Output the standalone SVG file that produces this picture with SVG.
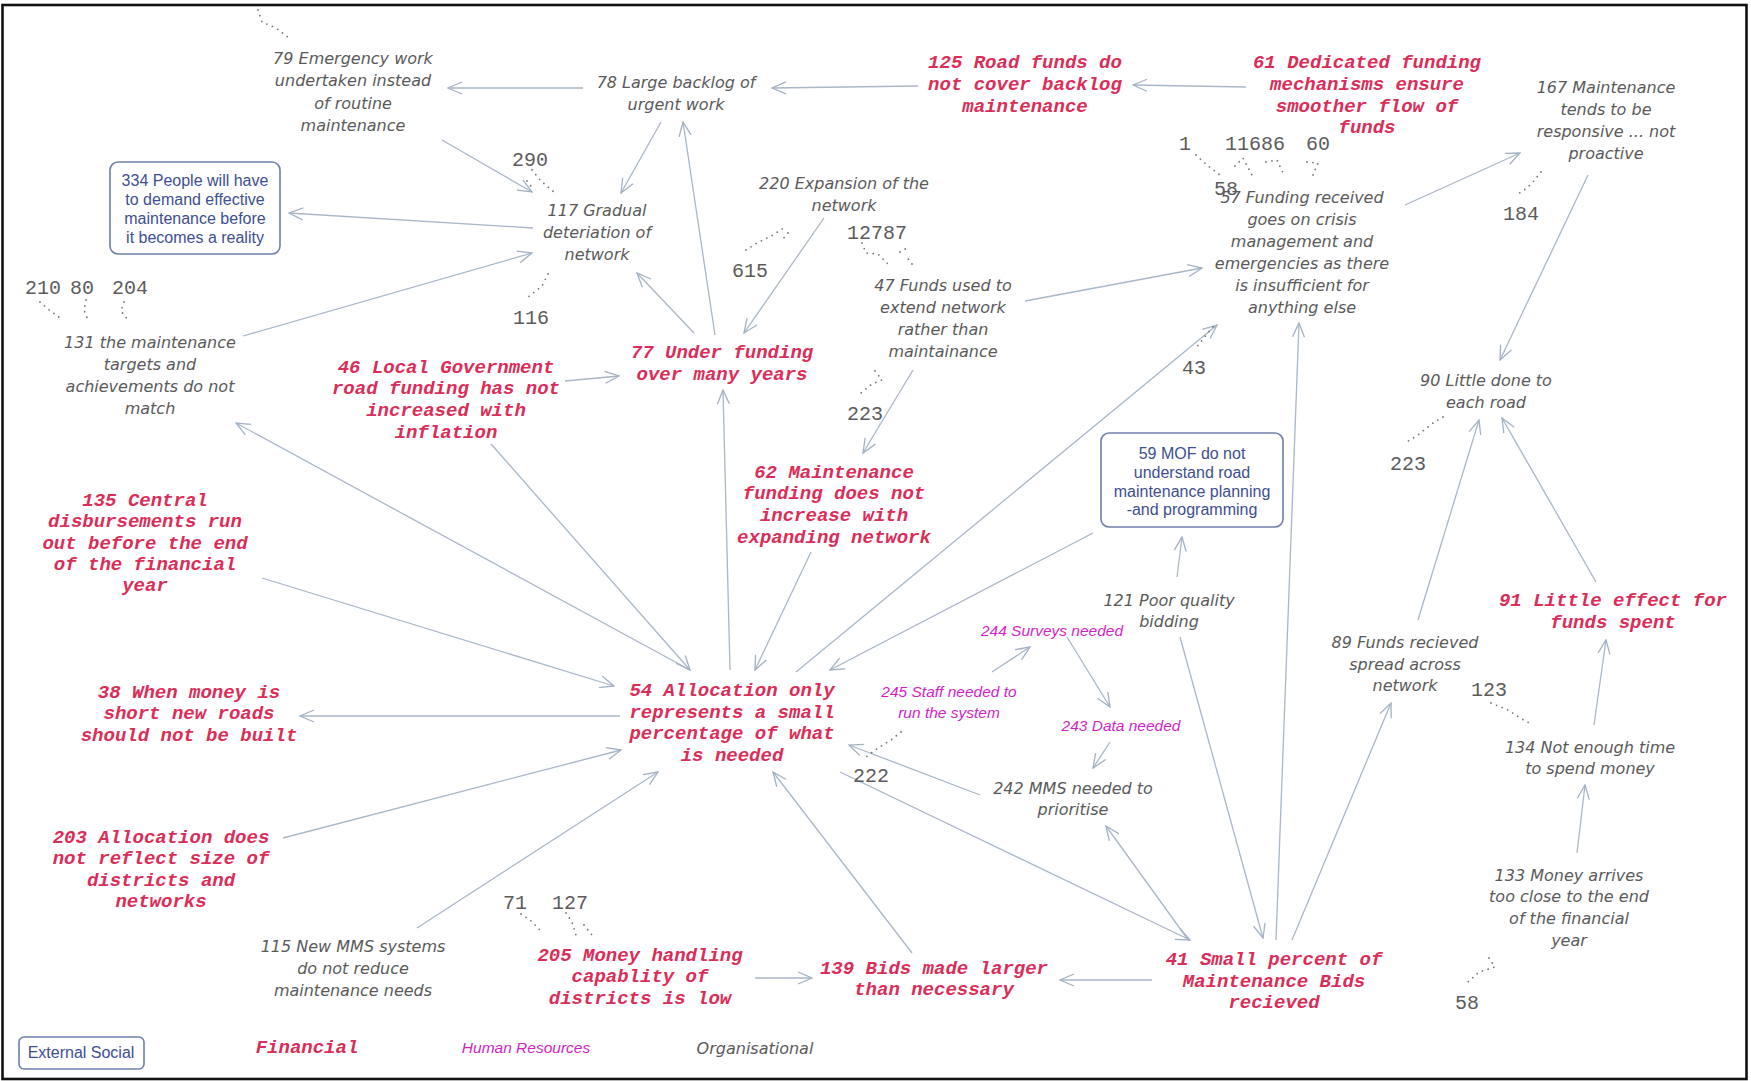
<svg xmlns="http://www.w3.org/2000/svg" width="1751" height="1081" viewBox="0 0 1751 1081">
  <style>
    .org { font-family: "DejaVu Sans", "Liberation Sans", sans-serif; font-style: italic; font-size: 16px; fill: #5a5a5a; text-anchor: middle; }
    .fin { font-family: "Liberation Mono", "Courier New", monospace; font-weight: bold; font-style: italic; font-size: 19px; fill: #db2d58; text-anchor: middle; }
    .hr  { font-family: "Liberation Sans", Arial, sans-serif; font-style: italic; font-size: 15.5px; fill: #d41fc6; text-anchor: middle; }
    .ext { font-family: "Liberation Sans", Arial, sans-serif; font-size: 16px; fill: #3d4f90; text-anchor: middle; }
    .ref { font-family: "Liberation Mono", "Courier New", monospace; font-size: 20px; fill: #5c5c5c; text-anchor: middle; }
    .box { fill: #ffffff; stroke: #6f7fae; stroke-width: 1.6; }
    .link { fill: none; stroke: #a9b7c7; stroke-width: 1.3; marker-end: url(#arr); }
    .dots { fill: none; stroke: #777; stroke-width: 1.8; stroke-linecap: round; stroke-dasharray: 0 6; }
  </style>
  <defs>
    <marker id="arr" viewBox="0 0 16 14" refX="15" refY="7" markerWidth="16" markerHeight="14" markerUnits="userSpaceOnUse" orient="auto">
      <path d="M1,1 L15,7 L1,13" fill="none" stroke="#a3b2c3" stroke-width="1.3"/>
    </marker>
  </defs>

  <rect x="0" y="0" width="1751" height="1081" fill="#ffffff"/>
  <rect x="2.5" y="5" width="1744" height="1074" fill="none" stroke="#111" stroke-width="2.6"/>

  <!-- connectors -->
  <g id="connectors">
    <line class="link" x1="583" y1="88" x2="448" y2="88"/>
    <line class="link" x1="918" y1="86" x2="772" y2="88"/>
    <line class="link" x1="1246" y1="87" x2="1133" y2="85"/>
    <line class="link" x1="442" y1="140" x2="532" y2="192"/>
    <line class="link" x1="661" y1="122" x2="621" y2="193"/>
    <line class="link" x1="533" y1="228" x2="289" y2="213"/>
    <line class="link" x1="243" y1="336" x2="532" y2="253"/>
    <line class="link" x1="694" y1="333" x2="637" y2="273"/>
    <line class="link" x1="715" y1="335" x2="683" y2="122"/>
    <line class="link" x1="824" y1="218" x2="744" y2="333"/>
    <line class="link" x1="565" y1="381" x2="619" y2="376"/>
    <line class="link" x1="913" y1="370" x2="863" y2="453"/>
    <line class="link" x1="1025" y1="301" x2="1202" y2="268"/>
    <line class="link" x1="1405" y1="205" x2="1520" y2="153"/>
    <line class="link" x1="1588" y1="175" x2="1500" y2="360"/>
    <line class="link" x1="1276" y1="940" x2="1299" y2="323"/>
    <line class="link" x1="796" y1="672" x2="1217" y2="325"/>
    <line class="link" x1="690" y1="670" x2="236" y2="423"/>
    <line class="link" x1="491" y1="444" x2="690" y2="670"/>
    <line class="link" x1="262" y1="578" x2="614" y2="686"/>
    <line class="link" x1="730" y1="670" x2="723" y2="390"/>
    <line class="link" x1="811" y1="552" x2="755" y2="670"/>
    <line class="link" x1="1093" y1="533" x2="830" y2="670"/>
    <line class="link" x1="620" y1="716" x2="300" y2="716"/>
    <line class="link" x1="283" y1="838" x2="621" y2="750"/>
    <line class="link" x1="417" y1="928" x2="658" y2="772"/>
    <line class="link" x1="912" y1="953" x2="773" y2="772"/>
    <line class="link" x1="980" y1="795" x2="849" y2="745"/>
    <line class="link" x1="840" y1="772" x2="1190" y2="940"/>
    <line class="link" x1="992" y1="672" x2="1030" y2="647"/>
    <line class="link" x1="1067" y1="637" x2="1110" y2="707"/>
    <line class="link" x1="1110" y1="742" x2="1093" y2="768"/>
    <line class="link" x1="1189" y1="941" x2="1106" y2="826"/>
    <line class="link" x1="1180" y1="637" x2="1263" y2="938"/>
    <line class="link" x1="1177" y1="577" x2="1182" y2="537"/>
    <line class="link" x1="1292" y1="940" x2="1391" y2="703"/>
    <line class="link" x1="1418" y1="620" x2="1479" y2="420"/>
    <line class="link" x1="1596" y1="582" x2="1502" y2="418"/>
    <line class="link" x1="1594" y1="725" x2="1606" y2="640"/>
    <line class="link" x1="1577" y1="853" x2="1585" y2="785"/>
    <line class="link" x1="1152" y1="980" x2="1060" y2="980"/>
    <line class="link" x1="755" y1="978" x2="812" y2="978"/>
  </g>

  <!-- dotted reference trails -->
  <g id="trails">
    <path class="dots" d="M258,10 L262,22 L276,28 L289,38"/>
    <path class="dots" d="M532,170 L541,181 L555,193 M527,181 L534,190"/>
    <path class="dots" d="M548,274 L542,286 L527,298"/>
    <path class="dots" d="M40,302 L48,309 L60,318 M86,300 L84,310 L88,320 M124,302 L121,311 L128,320"/>
    <path class="dots" d="M746,250 L757,243 L773,235 L785,227 M788,233 L782,240"/>
    <path class="dots" d="M862,243 L866,253 L878,254 L889,265 M900,252 L907,248 M912,264 L906,256"/>
    <path class="dots" d="M875,371 L882,380 L872,384 L861,393"/>
    <path class="dots" d="M1196,155 L1207,165 L1220,175 M1235,166 L1243,158 L1252,175 M1266,162 L1277,160 L1284,175 M1307,162 L1318,163 L1313,175"/>
    <path class="dots" d="M1541,172 L1533,182 L1527,188 L1518,194"/>
    <path class="dots" d="M1213,327 L1207,334 L1196,348"/>
    <path class="dots" d="M1443,417 L1433,423 L1418,435 L1405,443"/>
    <path class="dots" d="M1491,703 L1508,710 L1520,718 L1533,725"/>
    <path class="dots" d="M901,732 L891,740 L878,748 L866,757"/>
    <path class="dots" d="M521,914 L530,920 L540,930 M566,913 L572,922 L576,935 M584,925 L592,935"/>
    <path class="dots" d="M1489,958 L1495,967 L1479,972 L1468,982"/>
  </g>

  <!-- organisational nodes -->
  <g id="n79"><text class="org" x="353"><tspan x="353" y="64">79 Emergency work</tspan><tspan x="353" y="86">undertaken instead</tspan><tspan x="353" y="109">of routine</tspan><tspan x="353" y="131">maintenance</tspan></text></g>
  <g id="n78"><text class="org"><tspan x="676" y="88">78 Large backlog of</tspan><tspan x="676" y="110">urgent work</tspan></text></g>
  <g id="n167"><text class="org"><tspan x="1606" y="93">167 Maintenance</tspan><tspan x="1606" y="115">tends to be</tspan><tspan x="1606" y="137">responsive ... not</tspan><tspan x="1606" y="159">proactive</tspan></text></g>
  <g id="n117"><text class="org"><tspan x="597" y="216">117 Gradual</tspan><tspan x="597" y="238">deteriation of</tspan><tspan x="597" y="260">network</tspan></text></g>
  <g id="n220"><text class="org"><tspan x="844" y="189">220 Expansion of the</tspan><tspan x="844" y="211">network</tspan></text></g>
  <g id="n47"><text class="org"><tspan x="943" y="291">47 Funds used to</tspan><tspan x="943" y="313">extend network</tspan><tspan x="943" y="335">rather than</tspan><tspan x="943" y="357">maintainance</tspan></text></g>
  <g id="n57"><text class="org"><tspan x="1302" y="203">57 Funding received</tspan><tspan x="1302" y="225">goes on crisis</tspan><tspan x="1302" y="247">management and</tspan><tspan x="1302" y="269">emergencies as there</tspan><tspan x="1302" y="291">is insufficient for</tspan><tspan x="1302" y="313">anything else</tspan></text></g>
  <g id="n131"><text class="org"><tspan x="150" y="348">131 the maintenance</tspan><tspan x="150" y="370">targets and</tspan><tspan x="150" y="392">achievements do not</tspan><tspan x="150" y="414">match</tspan></text></g>
  <g id="n90"><text class="org"><tspan x="1486" y="386">90 Little done to</tspan><tspan x="1486" y="408">each road</tspan></text></g>
  <g id="n121"><text class="org"><tspan x="1169" y="606">121 Poor quality</tspan><tspan x="1169" y="627">bidding</tspan></text></g>
  <g id="n89"><text class="org"><tspan x="1405" y="648">89 Funds recieved</tspan><tspan x="1405" y="670">spread across</tspan><tspan x="1405" y="691">network</tspan></text></g>
  <g id="n134"><text class="org"><tspan x="1590" y="753">134 Not enough time</tspan><tspan x="1590" y="774">to spend money</tspan></text></g>
  <g id="n242"><text class="org"><tspan x="1073" y="794">242 MMS needed to</tspan><tspan x="1073" y="815">prioritise</tspan></text></g>
  <g id="n133"><text class="org"><tspan x="1569" y="881">133 Money arrives</tspan><tspan x="1569" y="902">too close to the end</tspan><tspan x="1569" y="924">of the financial</tspan><tspan x="1569" y="946">year</tspan></text></g>
  <g id="n115"><text class="org"><tspan x="353" y="952">115 New MMS systems</tspan><tspan x="353" y="974">do not reduce</tspan><tspan x="353" y="996">maintenance needs</tspan></text></g>

  <!-- financial nodes -->
  <g id="n125"><text class="fin"><tspan x="1025" y="68">125 Road funds do</tspan><tspan x="1025" y="90">not cover backlog</tspan><tspan x="1025" y="112">maintenance</tspan></text></g>
  <g id="n61"><text class="fin"><tspan x="1367" y="68">61 Dedicated funding</tspan><tspan x="1367" y="90">mechanisms ensure</tspan><tspan x="1367" y="112">smoother flow of</tspan><tspan x="1367" y="133">funds</tspan></text></g>
  <g id="n46"><text class="fin"><tspan x="446" y="373">46 Local Government</tspan><tspan x="446" y="394">road funding has not</tspan><tspan x="446" y="416">increased with</tspan><tspan x="446" y="438">inflation</tspan></text></g>
  <g id="n77"><text class="fin"><tspan x="722" y="358">77 Under funding</tspan><tspan x="722" y="380">over many years</tspan></text></g>
  <g id="n62"><text class="fin"><tspan x="834" y="478">62 Maintenance</tspan><tspan x="834" y="499">funding does not</tspan><tspan x="834" y="521">increase with</tspan><tspan x="834" y="543">expanding network</tspan></text></g>
  <g id="n135"><text class="fin"><tspan x="145" y="506">135 Central</tspan><tspan x="145" y="527">disbursements run</tspan><tspan x="145" y="549">out before the end</tspan><tspan x="145" y="570">of the financial</tspan><tspan x="145" y="591">year</tspan></text></g>
  <g id="n91"><text class="fin"><tspan x="1613" y="606">91 Little effect for</tspan><tspan x="1613" y="628">funds spent</tspan></text></g>
  <g id="n54"><text class="fin"><tspan x="732" y="696">54 Allocation only</tspan><tspan x="732" y="718">represents a small</tspan><tspan x="732" y="739">percentage of what</tspan><tspan x="732" y="761">is needed</tspan></text></g>
  <g id="n38"><text class="fin"><tspan x="189" y="698">38 When money is</tspan><tspan x="189" y="719">short new roads</tspan><tspan x="189" y="741">should not be built</tspan></text></g>
  <g id="n203"><text class="fin"><tspan x="161" y="843">203 Allocation does</tspan><tspan x="161" y="864">not reflect size of</tspan><tspan x="161" y="886">districts and</tspan><tspan x="161" y="907">networks</tspan></text></g>
  <g id="n205"><text class="fin"><tspan x="640" y="961">205 Money handling</tspan><tspan x="640" y="982">capablity of</tspan><tspan x="640" y="1004">districts is low</tspan></text></g>
  <g id="n139"><text class="fin"><tspan x="934" y="974">139 Bids made larger</tspan><tspan x="934" y="995">than necessary</tspan></text></g>
  <g id="n41"><text class="fin"><tspan x="1274" y="965">41 Small percent of</tspan><tspan x="1274" y="987">Maintenance Bids</tspan><tspan x="1274" y="1008">recieved</tspan></text></g>

  <!-- human resources nodes -->
  <g id="n244"><text class="hr" x="1052" y="636">244 Surveys needed</text></g>
  <g id="n245"><text class="hr"><tspan x="949" y="697">245 Staff needed to</tspan><tspan x="949" y="718">run the system</tspan></text></g>
  <g id="n243"><text class="hr" x="1121" y="731">243 Data needed</text></g>

  <!-- external social nodes -->
  <g id="n334">
    <rect class="box" x="110" y="162" width="170" height="92" rx="8"/>
    <text class="ext"><tspan x="195" y="186">334 People will have</tspan><tspan x="195" y="205">to demand effective</tspan><tspan x="195" y="224">maintenance before</tspan><tspan x="195" y="243">it becomes a reality</tspan></text>
  </g>
  <g id="n59">
    <rect class="box" x="1101" y="433" width="182" height="94" rx="8"/>
    <text class="ext"><tspan x="1192" y="459">59 MOF do not</tspan><tspan x="1192" y="478">understand road</tspan><tspan x="1192" y="497">maintenance planning</tspan><tspan x="1192" y="515">-and programming</tspan></text>
  </g>

  <!-- reference numbers -->
  <g id="refs">
    <text class="ref" x="530" y="166">290</text>
    <text class="ref" x="531" y="324">116</text>
    <text class="ref" x="43" y="294">210</text>
    <text class="ref" x="82" y="294">80</text>
    <text class="ref" x="130" y="294">204</text>
    <text class="ref" x="750" y="277">615</text>
    <text class="ref" x="877" y="239">12787</text>
    <text class="ref" x="865" y="420">223</text>
    <text class="ref" x="1185" y="150">1</text>
    <text class="ref" x="1255" y="150">11686</text>
    <text class="ref" x="1318" y="150">60</text>
    <text class="ref" x="1226" y="195">58</text>
    <text class="ref" x="1521" y="220">184</text>
    <text class="ref" x="1194" y="374">43</text>
    <text class="ref" x="1408" y="470">223</text>
    <text class="ref" x="1489" y="696">123</text>
    <text class="ref" x="871" y="782">222</text>
    <text class="ref" x="515" y="909">71</text>
    <text class="ref" x="570" y="909">127</text>
    <text class="ref" x="1467" y="1009">58</text>
  </g>

  <!-- legend -->
  <g id="legend">
    <rect class="box" x="19" y="1037" width="125" height="32" rx="5"/>
    <text class="ext" x="81" y="1058">External Social</text>
    <text class="fin" x="307" y="1053">Financial</text>
    <text class="hr" x="526" y="1053">Human Resources</text>
    <text class="org" x="755" y="1054">Organisational</text>
  </g>
</svg>
